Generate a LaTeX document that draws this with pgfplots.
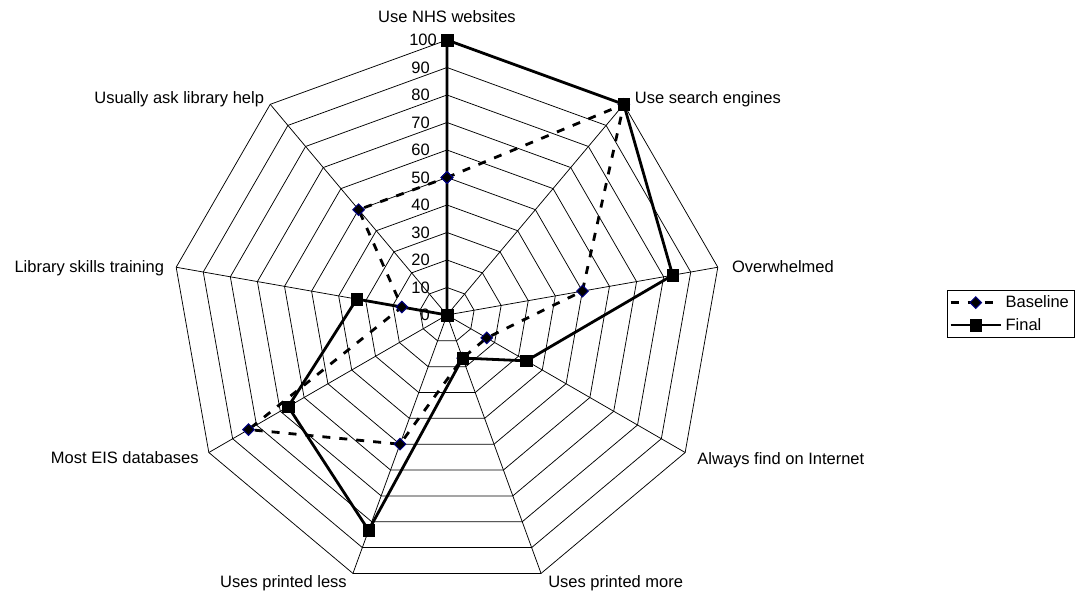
\documentclass[border=0pt]{standalone}
\usepackage{fontspec}
\setmainfont{Liberation Sans}
\usepackage{pgfplots}
\pgfplotsset{compat=1.18}
\usepgfplotslibrary{polar}

\definecolor{navy}{RGB}{0,0,128}
\newcommand\lbl{\fontsize{16.5bp}{19bp}\selectfont}

% spokes clockwise from top: NHS, search, overwhelmed, internet, printed more,
% printed less, EIS, skills training, ask help
\begin{document}
\begin{tikzpicture}
\begin{polaraxis}[
    width=550bp, height=550bp, scale only axis,
    xmin=0, xmax=360, ymin=0, ymax=100,
    hide axis, clip=false,
    legend cell align=left,
    legend style={draw=black, line width=0.75bp, font=\lbl,
      at={(axis description cs:1.409,0.5455)}, anchor=north west,
      inner xsep=2bp, inner ysep=4bp, row sep=6bp,
      nodes={inner xsep=3.5bp, inner ysep=1.5bp}},
    legend image code/.code={\draw[mark repeat=2,mark phase=2,#1]
      plot coordinates {(0bp,0bp) (25bp,0bp) (50bp,0bp)};},
  ]
  % web grid
  \pgfplotsinvokeforeach{10,20,...,100}{
    \addplot[black, line width=0.75bp, forget plot] coordinates {
      (90,#1) (50,#1) (10,#1) (-30,#1) (-70,#1) (-110,#1) (-150,#1) (-190,#1) (-230,#1) (90,#1)};
  }
  \pgfplotsinvokeforeach{90,50,10,-30,-70,-110,-150,-190,-230}{
    \addplot[black, line width=0.75bp, forget plot] coordinates {(#1,0) (#1,100)};
  }

  \addplot[black, line width=2.8bp, dash pattern=on 8bp off 9bp,
    mark=square*, mark size=4.1bp,
    mark options={solid, rotate=45, fill=black, draw=navy, line width=1bp}]
    coordinates {(90,50) (50,100) (10,50) (-30,16.67) (-70,16.67)
      (-110,50) (-150,83.33) (-190,16.67) (-230,50) (90,50)};
  \addlegendentry{Baseline}

  \addplot[black, line width=2.8bp, mark=square*, mark size=5.8bp,
    mark options={solid, fill=black, line width=0.5bp}]
    coordinates {(90,100) (50,100) (10,83.33) (-30,33.33) (-70,16.67)
      (-110,83.33) (-150,66.67) (-190,33.33) (-230,0) (90,100)};
  \addlegendentry{Final}

  % scale numbers along the top spoke
  \pgfplotsinvokeforeach{0,10,...,90}{
    \node[font=\lbl, inner sep=0, anchor=east, xshift=-17bp] at (axis cs:90,#1) {#1};
  }
  \node[font=\lbl, inner sep=0, anchor=east, xshift=-10bp] at (axis cs:90,100) {100};

  \node[font=\lbl, inner sep=0, anchor=base, yshift=17bp] at (axis cs:90,100) {Use NHS websites};
  \node[font=\lbl, inner sep=0, anchor=base west, xshift=11bp, yshift=1bp] at (axis cs:50,100) {Use search engines};
  \node[font=\lbl, inner sep=0, anchor=base west, xshift=14bp, yshift=-5bp] at (axis cs:10,100) {Overwhelmed};
  \node[font=\lbl, inner sep=0, anchor=base west, xshift=12bp, yshift=-12bp] at (axis cs:-30,100) {Always find on Internet};
  \node[font=\lbl, inner sep=0, anchor=base west, xshift=7bp, yshift=-14bp] at (axis cs:-70,100) {Uses printed more};
  \node[font=\lbl, inner sep=0, anchor=base east, xshift=-6bp, yshift=-14bp] at (axis cs:-110,100) {Uses printed less};
  \node[font=\lbl, inner sep=0, anchor=base east, xshift=-10bp, yshift=-11bp] at (axis cs:-150,100) {Most EIS databases};
  \node[font=\lbl, inner sep=0, anchor=base east, xshift=-12bp, yshift=-5bp] at (axis cs:-190,100) {Library skills training};
  \node[font=\lbl, inner sep=0, anchor=base east, xshift=-6bp, yshift=1bp] at (axis cs:-230,100) {Usually ask library help};

  \coordinate (c) at (axis cs:0,0);
\end{polaraxis}
\pgfresetboundingbox
\path[use as bounding box] ([shift={(-447bp,-283bp)}]c) rectangle ([shift={(634bp,315bp)}]c);
\end{tikzpicture}
\end{document}
